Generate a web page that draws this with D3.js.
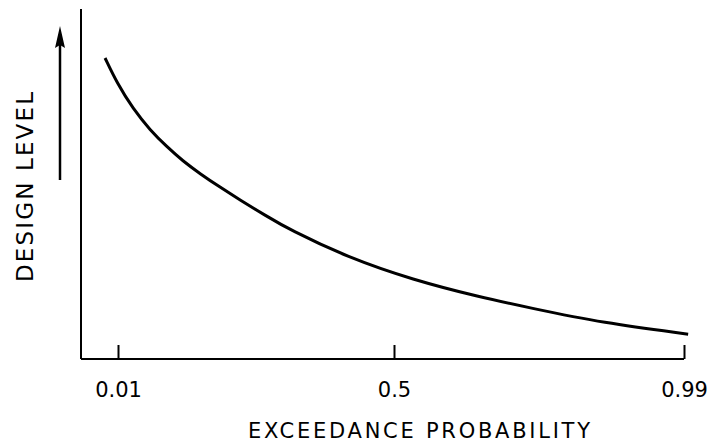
<!DOCTYPE html>
<html>
<head>
<meta charset="utf-8">
<script src="https://cdn.jsdelivr.net/npm/d3@7"></script>
<style>
  html, body { margin: 0; padding: 0; background: #fff; }
  svg { display: block; }
  text { font-family: "DejaVu Sans", "Liberation Sans", sans-serif; fill: #000; }
</style>
</head>
<body>
<div id="chart"></div>
<script>
// Data (schematic curve)
const probability = [-0.013, 0.008, 0.037, 0.067, 0.097, 0.125, 0.156, 0.191, 0.227, 0.271, 0.315, 0.417, 0.532, 0.645, 0.730, 0.853, 0.997];
const designLevel = [0.860, 0.789, 0.714, 0.654, 0.606, 0.566, 0.529, 0.491, 0.454, 0.411, 0.369, 0.291, 0.226, 0.177, 0.146, 0.103, 0.071];
const tickValues = [0.01, 0.5, 0.99];
const tickLabels = ["0.01", "0.5", "0.99"];
const xTitle = "EXCEEDANCE PROBABILITY";
const yTitle = "DESIGN LEVEL";

const W = 713, H = 443;
const svg = d3.select("#chart").append("svg").attr("width", W).attr("height", H);

const x = d3.scaleLinear().domain(tickValues).range([118, 394, 684]);
const y = d3.scaleLinear().domain([0, 1]).range([359, 9]);
const axisLeftX = 81;

// x axis baseline (extends to the y axis)
svg.append("line")
  .attr("x1", axisLeftX).attr("x2", x(0.99))
  .attr("y1", y(0)).attr("y2", y(0))
  .attr("stroke", "#000").attr("stroke-width", 2);

// x axis ticks (pointing up) and labels
const xAxis = d3.axisBottom(x)
  .tickValues(tickValues)
  .tickFormat((d, i) => tickLabels[i])
  .tickSizeInner(-14).tickSizeOuter(0).tickPadding(23);
const gx = svg.append("g").attr("transform", `translate(0,${y(0)})`).call(xAxis);
gx.select(".domain").remove();
gx.selectAll(".tick line").attr("stroke", "#000").attr("stroke-width", 2);
gx.selectAll(".tick text")
  .style("font-family", "'DejaVu Sans', sans-serif")
  .attr("font-size", 21).attr("fill", "#000");

// y axis line
svg.append("line")
  .attr("x1", axisLeftX).attr("x2", axisLeftX)
  .attr("y1", y(0)).attr("y2", y(1))
  .attr("stroke", "#000").attr("stroke-width", 2);

// curve
const pts = probability.map((p, i) => [p, designLevel[i]]);
svg.append("path")
  .datum(pts)
  .attr("fill", "none").attr("stroke", "#000").attr("stroke-width", 3)
  .attr("d", d3.line().x(d => x(d[0])).y(d => y(d[1])).curve(d3.curveBasis));

// arrow
svg.append("line")
  .attr("x1", 60).attr("x2", 60).attr("y1", 180).attr("y2", 44)
  .attr("stroke", "#000").attr("stroke-width", 2.5);
svg.append("path")
  .attr("d", d3.line()([[60, 26], [65, 48], [60, 45], [55, 48]]) + "Z")
  .attr("fill", "#000");

// titles
svg.append("text")
  .attr("x", 419).attr("y", 438)
  .attr("text-anchor", "middle")
  .attr("font-size", 21)
  .attr("textLength", 342).attr("lengthAdjust", "spacing")
  .text(xTitle);

svg.append("text")
  .attr("transform", "translate(33,187) rotate(-90)")
  .attr("text-anchor", "middle")
  .attr("font-size", 23)
  .attr("textLength", 190).attr("lengthAdjust", "spacing")
  .text(yTitle);
</script>
</body>
</html>
